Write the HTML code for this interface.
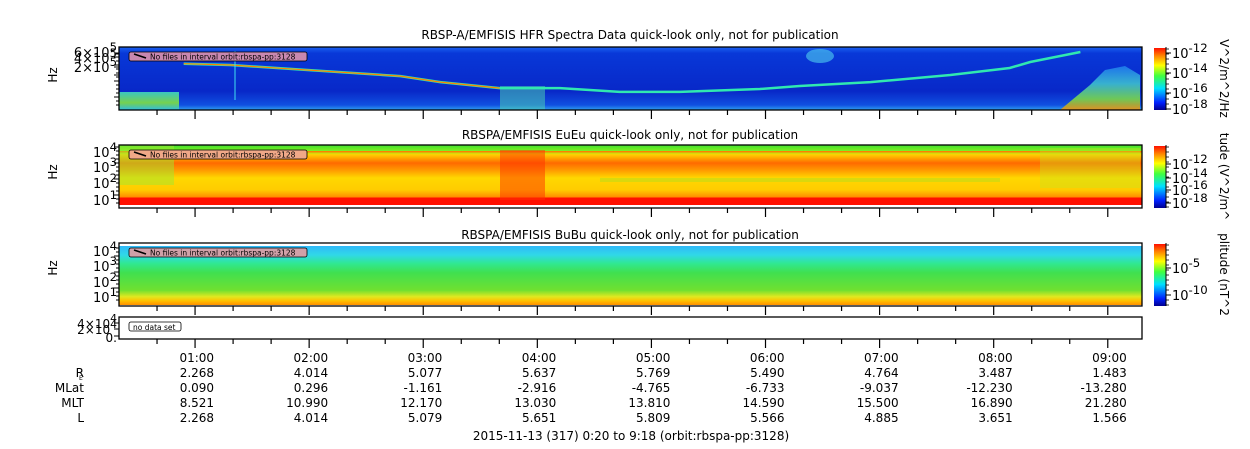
<!DOCTYPE html>
<html><head><meta charset="utf-8">
<style>
html,body{margin:0;padding:0;background:#fff;}
svg{display:block;font-family:"DejaVu Sans","Liberation Sans",sans-serif;}
</style></head>
<body>
<svg id="chart" width="1250" height="449" viewBox="0 0 1250 449" xmlns="http://www.w3.org/2000/svg">
<defs>
<linearGradient id="jet" x1="0" y1="1" x2="0" y2="0">
<stop offset="0" stop-color="#00008f"/><stop offset="0.12" stop-color="#0020ff"/>
<stop offset="0.35" stop-color="#00e0ff"/><stop offset="0.55" stop-color="#40ff40"/>
<stop offset="0.72" stop-color="#ffff00"/><stop offset="0.88" stop-color="#ff8000"/>
<stop offset="1" stop-color="#ff1000"/></linearGradient>
<linearGradient id="p2bg" x1="0" y1="0" x2="0" y2="1">
<stop offset="0" stop-color="#40e030"/><stop offset="0.1" stop-color="#80f020"/>
<stop offset="0.16" stop-color="#ffd000"/><stop offset="0.3" stop-color="#ff6a00"/>
<stop offset="0.42" stop-color="#ff9a00"/><stop offset="0.55" stop-color="#ffd800"/>
<stop offset="0.75" stop-color="#ffcc00"/><stop offset="0.87" stop-color="#ff8c00"/>
<stop offset="0.88" stop-color="#ff1000"/><stop offset="1" stop-color="#ff1000"/></linearGradient>
<linearGradient id="p3bg" x1="0" y1="0" x2="0" y2="1">
<stop offset="0" stop-color="#30b8f8"/><stop offset="0.15" stop-color="#30d8e8"/>
<stop offset="0.3" stop-color="#30e890"/><stop offset="0.45" stop-color="#40e050"/>
<stop offset="0.75" stop-color="#70e030"/><stop offset="0.86" stop-color="#e0e820"/>
<stop offset="0.93" stop-color="#ffc000"/><stop offset="1" stop-color="#ff9000"/></linearGradient>
<linearGradient id="p1bg" x1="0" y1="0" x2="0" y2="1">
<stop offset="0" stop-color="#1a60f0"/><stop offset="0.1" stop-color="#0838d8"/>
<stop offset="0.7" stop-color="#0828c8"/><stop offset="0.92" stop-color="#1050e0"/>
<stop offset="1" stop-color="#30a0f0"/></linearGradient>
<linearGradient id="p1right" x1="0" y1="0" x2="0" y2="1">
<stop offset="0" stop-color="#2080f0"/><stop offset="0.4" stop-color="#40c8d0"/>
<stop offset="0.75" stop-color="#80e040"/><stop offset="1" stop-color="#ff9000"/></linearGradient>
<linearGradient id="p1left" x1="0" y1="0" x2="0" y2="1">
<stop offset="0" stop-color="#40d8c0"/><stop offset="0.6" stop-color="#80e040"/>
<stop offset="1" stop-color="#30c0e0"/></linearGradient>
</defs>
<g id="layer"></g>
</svg>
<script>
// ---- data ----
const hourLabels = ["01:00","02:00","03:00","04:00","05:00","06:00","07:00","08:00","09:00"];
const hourValues = [1,2,3,4,5,6,7,8,9];
const reValues   = ["2.268","4.014","5.077","5.637","5.769","5.490","4.764","3.487","1.483"];
const mlatValues = ["0.090","0.296","-1.161","-2.916","-4.765","-6.733","-9.037","-12.230","-13.280"];
const mltValues  = ["8.521","10.990","12.170","13.030","13.810","14.590","15.500","16.890","21.280"];
const lValues    = ["2.268","4.014","5.079","5.651","5.809","5.566","4.885","3.651","1.566"];
// HFR upper-hybrid line: time (hours) and frequency (Hz)
const lineTimes = [0.9,1.31,2.8,3.15,3.67,4.2,4.72,5.25,5.95,6.3,6.92,7.62,8.14,8.32,8.76];
const lineFreqs = [250000,229000,107000,71000,47000,47000,36000,36000,44000,54000,71000,115000,187000,282000,560000];

const NS="http://www.w3.org/2000/svg";
const L=document.getElementById('layer');
function el(t,a,txt){const e=document.createElementNS(NS,t);for(const k in a)e.setAttribute(k,a[k]);if(txt!==undefined)e.textContent=txt;L.appendChild(e);return e;}
const X0=119,X1=1142,T0=20/60,T1=9+18/60;
const xs=h=>X0+(h-T0)*(X1-X0)/(T1-T0);
const y1=f=>51+(Math.log10(6e5)-Math.log10(f))*33.5;

let e;
e=el('rect',{x:X0,y:47,width:X1-X0,height:63,fill:'url(#p1bg)'});


e=el('rect',{x:X0,y:92,width:60,height:18,fill:'url(#p1left)',opacity:0.9});


e=el('polygon',{points:`1060,110 1090,85 1105,70 1125,66 1140,75 1140,110`,fill:'url(#p1right)',opacity:0.85});


e=el('rect',{x:500,y:86,width:45,height:24,fill:'#50d8b0',opacity:0.5});


e=el('ellipse',{cx:820,cy:56,rx:14,ry:7,fill:'#50d0f0',opacity:0.6});


let pts=lineTimes.map((t,i)=>xs(t).toFixed(1)+','+y1(lineFreqs[i]).toFixed(1)).join(' ');
e=el('polyline',{points:pts,fill:'none',stroke:'#30e8b0',"stroke-width":2.5});


e=el('polyline',{points:lineTimes.slice(0,5).map((t,i)=>xs(t).toFixed(1)+','+y1(lineFreqs[i]).toFixed(1)).join(' '),fill:'none',stroke:'#ff8000',"stroke-width":1.2});


el('line',{x1:235,y1:51,x2:235,y2:100,stroke:'#40e0f0','stroke-width':1});

// panel 2
e=el('rect',{x:X0,y:145,width:X1-X0,height:60,fill:'url(#p2bg)'});


el('rect',{x:X0,y:151,width:X1-X0,height:1.5,fill:'#ff8000'});
el('rect',{x:X0,y:145,width:55,height:40,fill:'#a0e830',opacity:0.5});
el('rect',{x:500,y:150,width:45,height:50,fill:'#ff3000',opacity:0.5});
el('rect',{x:1040,y:148,width:100,height:40,fill:'#c0e820',opacity:0.35});
el('rect',{x:600,y:178,width:400,height:4,fill:'#80e030',opacity:0.3});

// panel 3
e=el('rect',{x:X0,y:246,width:X1-X0,height:59,fill:'url(#p3bg)'});



[[47,110],[145,208],[243,306],[317,339]].forEach((p,i)=>{
 e=el('rect',{x:X0,y:p[0],width:X1-X0,height:p[1]-p[0],fill:i==3?'#fff':'none',stroke:'#000','stroke-width':1.3});
 
 
 for(let m=40;m<=9*60+18;m+=20){const x=xs(m/60);const maj=(m%60==0);
  el('line',{x1:x,y1:p[1],x2:x,y2:p[1]+(maj?9:5),stroke:'#000','stroke-width':1.2});}
});

const titles=[[35,"RBSP-A/EMFISIS  HFR Spectra Data quick-look only, not for publication"],[135,"RBSPA/EMFISIS  EuEu quick-look only, not for publication"],[235,"RBSPA/EMFISIS  BuBu quick-look only, not for publication"]];
titles.forEach((t,i)=>{e=el('text',{x:630,y:t[0]+4,"text-anchor":"middle","font-size":12,fill:'#000'},t[1]);
 
 });

const lblFill=['#c888b0','#f0a888','#d0a0a8'];
[51,149,247].forEach((y,i)=>{
 e=el('rect',{x:129,y:y+1,width:178,height:9,rx:2,fill:lblFill[i],stroke:'#000','stroke-width':0.8});
 
 
 el('line',{x1:134,y1:y+3,x2:146,y2:y+7,stroke:'#000','stroke-width':1.5});
 el('text',{x:150,y:y+8.5,"font-size":7.5,fill:'#000'},'No files in interval orbit:rbspa-pp:3128');
});
e=el('rect',{x:129,y:322,width:52,height:9,rx:2,fill:'#fff',stroke:'#000','stroke-width':0.8});


el('text',{x:133,y:330,"font-size":7.5,fill:'#000'},'no data set');

function sup(x,y,base,exp,fs){const t=el('text',{x:x,y:y,"text-anchor":"end","font-size":fs||13,fill:'#000'});
 const a=document.createElementNS(NS,'tspan');a.textContent=base;t.appendChild(a);
 const b=document.createElementNS(NS,'tspan');b.setAttribute('dy','-6');b.setAttribute('font-size',(fs||13)*0.9);b.textContent=exp;t.appendChild(b);return t;}
sup(117,57,'6×10','5',13);sup(117,63,'4×10','5',13);sup(117,72,'2×10','5',13);
[[153,'4'],[168,'3'],[184,'2'],[201,'1']].forEach(a=>sup(117,a[0]+4,'10',a[1]));
[[252,'4'],[267,'3'],[283,'2'],[298,'1']].forEach(a=>sup(117,a[0]+4,'10',a[1]));
sup(117,328,'4×10','4',12);sup(117,334,'2×10','4',12);
el('text',{x:117,y:342,"text-anchor":"end","font-size":12,fill:'#000'},'0.');
[[51,110],[145,208],[246,306]].forEach(p=>{for(let y=p[0]+2;y<p[1]-3;y+=4)el('line',{x1:X0-(y%16<4?5:3),y1:y,x2:X0,y2:y,stroke:'#000','stroke-width':1});});
[[54,57,67,75],[323,329,336]].forEach(a=>a.forEach(y=>el('line',{x1:X0-5,y1:y,x2:X0,y2:y,stroke:'#000','stroke-width':1})));
[[75,'Hz'],[172,'Hz'],[268,'Hz']].forEach((a,i)=>{e=el('text',{x:0,y:0,transform:`translate(57,${a[0]}) rotate(-90)`,"text-anchor":"middle","font-size":12,fill:'#000'},a[1]);
 
 });

const cb=[[47,110,[['-12',53],['-14',73],['-16',93],['-18',109]],'V^2/m^2/Hz'],[145,208,[['-12',164],['-14',178],['-16',190],['-18',203]],'tude (V^2/m^'],[243,306,[['-5',268],['-10',295]],'plitude (nT^2']];
cb.forEach((c,i)=>{
 e=el('rect',{x:1154,y:c[0]+1,width:12,height:c[1]-c[0]-1,fill:'url(#jet)'});
 
 
 el('line',{x1:1166,y1:c[0],x2:1166,y2:c[1],stroke:'#000','stroke-width':1});
 for(let y=c[0]+2;y<c[1];y+=5)el('line',{x1:1166,y1:y,x2:1169,y2:y,stroke:'#000','stroke-width':0.8});
 c[2].forEach(l=>{const t=sup(0,l[1]+5,'10',l[0],13);t.setAttribute('text-anchor','start');t.setAttribute('x',1172);
  el('line',{x1:1166,y1:l[1],x2:1171,y2:l[1],stroke:'#000','stroke-width':1});});
 e=el('text',{x:0,y:0,transform:`translate(1220,${(c[0]+c[1])/2}) rotate(90)`,"text-anchor":"middle","font-size":12,fill:'#000'},c[3]);
 
 
});

const rows=[[hourLabels,362],[reValues,377],[mlatValues,392],[mltValues,407],[lValues,422]];
rows.forEach((r,ri)=>r[0].forEach((v,i)=>{e=el('text',{x:xs(hourValues[i])+19,y:r[1],"text-anchor":"end","font-size":12,fill:'#000'},v);
 
 }));
const names=[['R',377],['MLat',392],['MLT',407],['L',422]];
names.forEach(n=>{e=el('text',{x:84,y:n[1],"text-anchor":"end","font-size":12,fill:'#000'},n[0]);
 
 });
el('text',{x:79,y:380,"font-size":6,fill:'#000'},'E');
e=el('text',{x:631,y:440,"text-anchor":"middle","font-size":12,fill:'#000'},'2015-11-13 (317) 0:20 to 9:18 (orbit:rbspa-pp:3128)');


</script>
</body></html>
